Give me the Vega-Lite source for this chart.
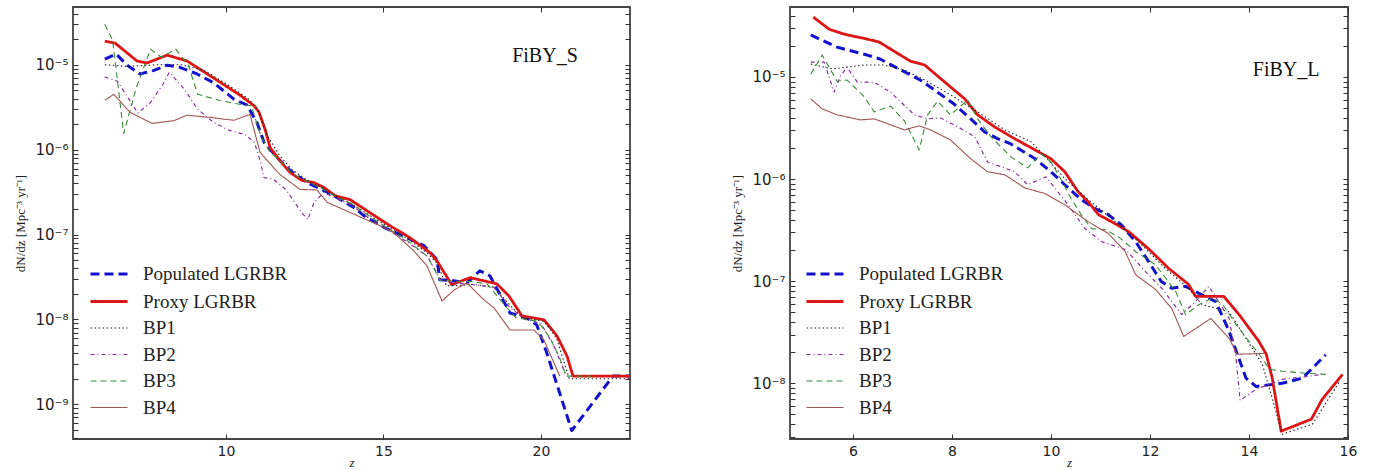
{
  "$schema": "https://vega.github.io/schema/vega-lite/v6.json",
  "background": "white",
  "padding": {"left": 14, "top": 5, "right": 5, "bottom": 0},
  "bounds": "flush",
  "spacing": 160,
  "config": {
    "view": {"stroke": "#444", "strokeWidth": 1.8},
    "axis": {"domain": false, "grid": false, "labelFont": "DejaVu Sans", "labelFontSize": 14, "labelColor": "#222", "tickColor": "#333", "tickWidth": 1, "tickSize": -5, "labelPadding": 10, "titleFontWeight": "normal", "titleColor": "#222", "labelFlush": false}
  },
  "datasets": {
    "L": [
      {"series":"Populated LGRBR","z":6.15,"rate":1.17e-5},{"series":"Populated LGRBR","z":6.51,"rate":1.34e-5},{"series":"Populated LGRBR","z":6.86,"rate":9.9e-6},{"series":"Populated LGRBR","z":7.27,"rate":7.8e-6},{"series":"Populated LGRBR","z":7.71,"rate":8.6e-6},{"series":"Populated LGRBR","z":8.13,"rate":9.9e-6},{"series":"Populated LGRBR","z":8.51,"rate":9.4e-6},{"series":"Populated LGRBR","z":9.08,"rate":7.8e-6},{"series":"Populated LGRBR","z":9.62,"rate":6.1e-6},{"series":"Populated LGRBR","z":10.25,"rate":3.94e-6},{"series":"Populated LGRBR","z":10.67,"rate":3.34e-6},{"series":"Populated LGRBR","z":10.98,"rate":2.1e-6},{"series":"Populated LGRBR","z":11.21,"rate":1.22e-6},{"series":"Populated LGRBR","z":11.62,"rate":8.1e-7},{"series":"Populated LGRBR","z":12.03,"rate":5.7e-7},{"series":"Populated LGRBR","z":12.57,"rate":4.1e-7},{"series":"Populated LGRBR","z":13.11,"rate":3.3e-7},{"series":"Populated LGRBR","z":13.52,"rate":2.73e-7},{"series":"Populated LGRBR","z":14.06,"rate":2.09e-7},{"series":"Populated LGRBR","z":14.38,"rate":1.67e-7},{"series":"Populated LGRBR","z":15.02,"rate":1.21e-7},{"series":"Populated LGRBR","z":15.52,"rate":1.0e-7},{"series":"Populated LGRBR","z":16.29,"rate":7.4e-8},{"series":"Populated LGRBR","z":16.7,"rate":5.06e-8},{"series":"Populated LGRBR","z":16.79,"rate":2.93e-8},{"series":"Populated LGRBR","z":17.24,"rate":2.85e-8},{"series":"Populated LGRBR","z":17.65,"rate":2.7e-8},{"series":"Populated LGRBR","z":18.06,"rate":3.74e-8},{"series":"Populated LGRBR","z":18.38,"rate":3.27e-8},{"series":"Populated LGRBR","z":19.02,"rate":1.19e-8},{"series":"Populated LGRBR","z":19.56,"rate":1.04e-8},{"series":"Populated LGRBR","z":19.87,"rate":8.6e-9},{"series":"Populated LGRBR","z":20.19,"rate":4.0e-9},{"series":"Populated LGRBR","z":20.98,"rate":4.9e-10},{"series":"Populated LGRBR","z":22.29,"rate":2.15e-9},{"series":"Populated LGRBR","z":22.83,"rate":2.15e-9},
      {"series":"Proxy LGRBR","z":6.15,"rate":1.9e-5},{"series":"Proxy LGRBR","z":6.48,"rate":1.8e-5},{"series":"Proxy LGRBR","z":7.17,"rate":1.11e-5},{"series":"Proxy LGRBR","z":7.49,"rate":1.05e-5},{"series":"Proxy LGRBR","z":8.13,"rate":1.3e-5},{"series":"Proxy LGRBR","z":8.76,"rate":1.11e-5},{"series":"Proxy LGRBR","z":9.71,"rate":6.6e-6},{"series":"Proxy LGRBR","z":10.44,"rate":4.4e-6},{"series":"Proxy LGRBR","z":10.89,"rate":3.3e-6},{"series":"Proxy LGRBR","z":11.05,"rate":2.76e-6},{"series":"Proxy LGRBR","z":11.24,"rate":1.74e-6},{"series":"Proxy LGRBR","z":11.4,"rate":1.06e-6},{"series":"Proxy LGRBR","z":11.68,"rate":7.7e-7},{"series":"Proxy LGRBR","z":12.03,"rate":5.4e-7},{"series":"Proxy LGRBR","z":12.41,"rate":4.34e-7},{"series":"Proxy LGRBR","z":12.79,"rate":4.1e-7},{"series":"Proxy LGRBR","z":13.11,"rate":3.58e-7},{"series":"Proxy LGRBR","z":13.46,"rate":2.88e-7},{"series":"Proxy LGRBR","z":13.94,"rate":2.58e-7},{"series":"Proxy LGRBR","z":14.57,"rate":1.81e-7},{"series":"Proxy LGRBR","z":15.21,"rate":1.27e-7},{"series":"Proxy LGRBR","z":15.84,"rate":9.2e-8},{"series":"Proxy LGRBR","z":16.48,"rate":6.1e-8},{"series":"Proxy LGRBR","z":16.7,"rate":4.9e-8},{"series":"Proxy LGRBR","z":17.17,"rate":2.56e-8},{"series":"Proxy LGRBR","z":17.4,"rate":2.77e-8},{"series":"Proxy LGRBR","z":17.75,"rate":3.1e-8},{"series":"Proxy LGRBR","z":18.6,"rate":2.63e-8},{"series":"Proxy LGRBR","z":18.98,"rate":1.9e-8},{"series":"Proxy LGRBR","z":19.4,"rate":1.1e-8},{"series":"Proxy LGRBR","z":20.1,"rate":9.9e-9},{"series":"Proxy LGRBR","z":20.51,"rate":6.4e-9},{"series":"Proxy LGRBR","z":20.83,"rate":3.7e-9},{"series":"Proxy LGRBR","z":21.02,"rate":2.15e-9},{"series":"Proxy LGRBR","z":22.83,"rate":2.15e-9},
      {"series":"BP1","z":6.15,"rate":1.0e-5},{"series":"BP1","z":6.9,"rate":9.6e-6},{"series":"BP1","z":7.75,"rate":1.0e-5},{"series":"BP1","z":8.6,"rate":1.0e-5},{"series":"BP1","z":9.3,"rate":8.6e-6},{"series":"BP1","z":10.0,"rate":6.0e-6},{"series":"BP1","z":10.7,"rate":4.0e-6},{"series":"BP1","z":11.0,"rate":3.0e-6},{"series":"BP1","z":11.3,"rate":1.5e-6},{"series":"BP1","z":11.7,"rate":8.5e-7},{"series":"BP1","z":12.1,"rate":5.8e-7},{"series":"BP1","z":12.6,"rate":4.3e-7},{"series":"BP1","z":13.1,"rate":3.5e-7},{"series":"BP1","z":13.5,"rate":2.8e-7},{"series":"BP1","z":14.0,"rate":2.3e-7},{"series":"BP1","z":14.6,"rate":1.65e-7},{"series":"BP1","z":15.2,"rate":1.2e-7},{"series":"BP1","z":15.8,"rate":8.8e-8},{"series":"BP1","z":16.4,"rate":6.0e-8},{"series":"BP1","z":16.7,"rate":4.6e-8},{"series":"BP1","z":17.0,"rate":2.5e-8},{"series":"BP1","z":17.4,"rate":2.5e-8},{"series":"BP1","z":17.8,"rate":2.6e-8},{"series":"BP1","z":18.5,"rate":2.4e-8},{"series":"BP1","z":19.0,"rate":1.5e-8},{"series":"BP1","z":19.4,"rate":1.05e-8},{"series":"BP1","z":20.1,"rate":9.5e-9},{"series":"BP1","z":20.5,"rate":6.0e-9},{"series":"BP1","z":20.9,"rate":2.0e-9},{"series":"BP1","z":22.83,"rate":2.0e-9},
      {"series":"BP2","z":6.15,"rate":7.2e-6},{"series":"BP2","z":6.55,"rate":6.4e-6},{"series":"BP2","z":7.2,"rate":2.7e-6},{"series":"BP2","z":7.6,"rate":3.6e-6},{"series":"BP2","z":8.0,"rate":5.9e-6},{"series":"BP2","z":8.2,"rate":8.2e-6},{"series":"BP2","z":8.7,"rate":5.0e-6},{"series":"BP2","z":9.1,"rate":3.0e-6},{"series":"BP2","z":9.6,"rate":2.1e-6},{"series":"BP2","z":10.1,"rate":1.69e-6},{"series":"BP2","z":10.6,"rate":1.51e-6},{"series":"BP2","z":10.9,"rate":1.22e-6},{"series":"BP2","z":11.1,"rate":7.1e-7},{"series":"BP2","z":11.2,"rate":4.7e-7},{"series":"BP2","z":11.5,"rate":4.5e-7},{"series":"BP2","z":11.9,"rate":3.4e-7},{"series":"BP2","z":12.4,"rate":1.82e-7},{"series":"BP2","z":12.6,"rate":1.5e-7},{"series":"BP2","z":12.8,"rate":2.4e-7},{"series":"BP2","z":13.1,"rate":3.1e-7},{"series":"BP2","z":13.5,"rate":2.7e-7},{"series":"BP2","z":14.0,"rate":2.2e-7},{"series":"BP2","z":14.6,"rate":1.5e-7},{"series":"BP2","z":15.2,"rate":1.1e-7},{"series":"BP2","z":15.8,"rate":8.0e-8},{"series":"BP2","z":16.4,"rate":5.5e-8},{"series":"BP2","z":16.8,"rate":3.0e-8},{"series":"BP2","z":17.2,"rate":2.7e-8},{"series":"BP2","z":17.7,"rate":2.6e-8},{"series":"BP2","z":18.5,"rate":2.4e-8},{"series":"BP2","z":19.0,"rate":1.4e-8},{"series":"BP2","z":19.5,"rate":1.0e-8},{"series":"BP2","z":20.0,"rate":9.0e-9},{"series":"BP2","z":20.4,"rate":5.0e-9},{"series":"BP2","z":20.8,"rate":2.2e-9},
      {"series":"BP3","z":6.15,"rate":3.0e-5},{"series":"BP3","z":6.4,"rate":1.95e-5},{"series":"BP3","z":6.75,"rate":1.55e-6},{"series":"BP3","z":7.15,"rate":5.4e-6},{"series":"BP3","z":7.6,"rate":1.53e-5},{"series":"BP3","z":7.95,"rate":1.23e-5},{"series":"BP3","z":8.4,"rate":1.53e-5},{"series":"BP3","z":8.8,"rate":1.0e-5},{"series":"BP3","z":9.1,"rate":4.5e-6},{"series":"BP3","z":9.8,"rate":3.8e-6},{"series":"BP3","z":10.6,"rate":3.34e-6},{"series":"BP3","z":10.8,"rate":3.3e-6},{"series":"BP3","z":11.1,"rate":1.47e-6},{"series":"BP3","z":11.4,"rate":9.3e-7},{"series":"BP3","z":11.8,"rate":7.0e-7},{"series":"BP3","z":12.1,"rate":5.2e-7},{"series":"BP3","z":12.6,"rate":4.2e-7},{"series":"BP3","z":13.1,"rate":3.4e-7},{"series":"BP3","z":13.5,"rate":2.8e-7},{"series":"BP3","z":14.0,"rate":2.3e-7},{"series":"BP3","z":14.6,"rate":1.6e-7},{"series":"BP3","z":15.2,"rate":1.15e-7},{"series":"BP3","z":15.8,"rate":8.3e-8},{"series":"BP3","z":16.4,"rate":5.5e-8},{"series":"BP3","z":16.8,"rate":2.9e-8},{"series":"BP3","z":17.4,"rate":2.8e-8},{"series":"BP3","z":17.8,"rate":2.8e-8},{"series":"BP3","z":18.3,"rate":2.6e-8},{"series":"BP3","z":18.9,"rate":1.4e-8},{"series":"BP3","z":19.2,"rate":1.05e-8},{"series":"BP3","z":19.9,"rate":9.5e-9},{"series":"BP3","z":20.3,"rate":6.0e-9},{"series":"BP3","z":20.6,"rate":3.5e-9},{"series":"BP3","z":20.8,"rate":2.15e-9},{"series":"BP3","z":21.6,"rate":2.15e-9},
      {"series":"BP4","z":6.15,"rate":3.83e-6},{"series":"BP4","z":6.44,"rate":4.5e-6},{"series":"BP4","z":6.95,"rate":2.76e-6},{"series":"BP4","z":7.65,"rate":2.04e-6},{"series":"BP4","z":8.35,"rate":2.2e-6},{"series":"BP4","z":8.76,"rate":2.55e-6},{"series":"BP4","z":9.49,"rate":2.4e-6},{"series":"BP4","z":10.25,"rate":2.22e-6},{"series":"BP4","z":10.76,"rate":2.61e-6},{"series":"BP4","z":11.08,"rate":9.3e-7},{"series":"BP4","z":11.71,"rate":5.1e-7},{"series":"BP4","z":12.35,"rate":3.4e-7},{"series":"BP4","z":12.89,"rate":3.35e-7},{"series":"BP4","z":13.21,"rate":2.4e-7},{"series":"BP4","z":13.94,"rate":1.82e-7},{"series":"BP4","z":15.02,"rate":1.21e-7},{"series":"BP4","z":15.33,"rate":1.05e-7},{"series":"BP4","z":15.97,"rate":6.4e-8},{"series":"BP4","z":16.38,"rate":4.3e-8},{"series":"BP4","z":16.86,"rate":1.65e-8},{"series":"BP4","z":17.24,"rate":2.22e-8},{"series":"BP4","z":17.65,"rate":2.7e-8},{"series":"BP4","z":18.19,"rate":1.7e-8},{"series":"BP4","z":18.51,"rate":1.37e-8},{"series":"BP4","z":19.02,"rate":7.5e-9},{"series":"BP4","z":19.78,"rate":7.5e-9},{"series":"BP4","z":20.1,"rate":5.7e-9},{"series":"BP4","z":20.6,"rate":2.15e-9}
    ],
    "R": [
      {"series":"Populated LGRBR","z":5.15,"rate":2.58e-5},{"series":"Populated LGRBR","z":5.68,"rate":1.96e-5},{"series":"Populated LGRBR","z":6.29,"rate":1.64e-5},{"series":"Populated LGRBR","z":6.55,"rate":1.5e-5},{"series":"Populated LGRBR","z":6.9,"rate":1.22e-5},{"series":"Populated LGRBR","z":7.36,"rate":9.35e-6},{"series":"Populated LGRBR","z":7.71,"rate":7.1e-6},{"series":"Populated LGRBR","z":8.05,"rate":5.4e-6},{"series":"Populated LGRBR","z":8.38,"rate":3.89e-6},{"series":"Populated LGRBR","z":8.66,"rate":2.9e-6},{"series":"Populated LGRBR","z":8.93,"rate":2.48e-6},{"series":"Populated LGRBR","z":9.19,"rate":2.21e-6},{"series":"Populated LGRBR","z":9.68,"rate":1.58e-6},{"series":"Populated LGRBR","z":10.0,"rate":1.18e-6},{"series":"Populated LGRBR","z":10.28,"rate":8.8e-7},{"series":"Populated LGRBR","z":10.61,"rate":6.3e-7},{"series":"Populated LGRBR","z":10.89,"rate":5.13e-7},{"series":"Populated LGRBR","z":11.16,"rate":4.48e-7},{"series":"Populated LGRBR","z":11.42,"rate":3.57e-7},{"series":"Populated LGRBR","z":11.71,"rate":2.44e-7},{"series":"Populated LGRBR","z":11.97,"rate":1.56e-7},{"series":"Populated LGRBR","z":12.23,"rate":9.9e-8},{"series":"Populated LGRBR","z":12.44,"rate":8.5e-8},{"series":"Populated LGRBR","z":12.72,"rate":8.9e-8},{"series":"Populated LGRBR","z":12.99,"rate":7.6e-8},{"series":"Populated LGRBR","z":13.33,"rate":6.3e-8},{"series":"Populated LGRBR","z":13.6,"rate":3.21e-8},{"series":"Populated LGRBR","z":13.94,"rate":1.12e-8},{"series":"Populated LGRBR","z":14.14,"rate":9.3e-9},{"series":"Populated LGRBR","z":14.67,"rate":1.0e-8},{"series":"Populated LGRBR","z":15.08,"rate":1.12e-8},{"series":"Populated LGRBR","z":15.55,"rate":1.9e-8},
      {"series":"Proxy LGRBR","z":5.2,"rate":3.86e-5},{"series":"Proxy LGRBR","z":5.52,"rate":2.94e-5},{"series":"Proxy LGRBR","z":5.82,"rate":2.63e-5},{"series":"Proxy LGRBR","z":6.29,"rate":2.35e-5},{"series":"Proxy LGRBR","z":6.53,"rate":2.2e-5},{"series":"Proxy LGRBR","z":7.16,"rate":1.43e-5},{"series":"Proxy LGRBR","z":7.45,"rate":1.31e-5},{"series":"Proxy LGRBR","z":7.97,"rate":8.0e-6},{"series":"Proxy LGRBR","z":8.26,"rate":6.1e-6},{"series":"Proxy LGRBR","z":8.52,"rate":4.26e-6},{"series":"Proxy LGRBR","z":8.86,"rate":3.25e-6},{"series":"Proxy LGRBR","z":9.27,"rate":2.48e-6},{"series":"Proxy LGRBR","z":9.68,"rate":1.93e-6},{"series":"Proxy LGRBR","z":10.0,"rate":1.58e-6},{"series":"Proxy LGRBR","z":10.28,"rate":1.18e-6},{"series":"Proxy LGRBR","z":10.55,"rate":7.5e-7},{"series":"Proxy LGRBR","z":10.75,"rate":6.0e-7},{"series":"Proxy LGRBR","z":10.96,"rate":4.48e-7},{"series":"Proxy LGRBR","z":11.22,"rate":3.83e-7},{"series":"Proxy LGRBR","z":11.57,"rate":3.06e-7},{"series":"Proxy LGRBR","z":11.97,"rate":2.08e-7},{"series":"Proxy LGRBR","z":12.38,"rate":1.33e-7},{"series":"Proxy LGRBR","z":12.78,"rate":9.3e-8},{"series":"Proxy LGRBR","z":12.92,"rate":7.1e-8},{"series":"Proxy LGRBR","z":13.49,"rate":7.1e-8},{"series":"Proxy LGRBR","z":13.8,"rate":4.7e-8},{"series":"Proxy LGRBR","z":14.2,"rate":2.57e-8},{"series":"Proxy LGRBR","z":14.35,"rate":1.92e-8},{"series":"Proxy LGRBR","z":14.47,"rate":1.12e-8},{"series":"Proxy LGRBR","z":14.65,"rate":3.39e-9},{"series":"Proxy LGRBR","z":15.26,"rate":4.44e-9},{"series":"Proxy LGRBR","z":15.48,"rate":6.97e-9},{"series":"Proxy LGRBR","z":15.89,"rate":1.22e-8},
      {"series":"BP1","z":5.15,"rate":1.34e-5},{"series":"BP1","z":5.58,"rate":1.2e-5},{"series":"BP1","z":6.23,"rate":1.31e-5},{"series":"BP1","z":6.63,"rate":1.31e-5},{"series":"BP1","z":7.04,"rate":1.17e-5},{"series":"BP1","z":7.45,"rate":9.35e-6},{"series":"BP1","z":7.97,"rate":6.7e-6},{"series":"BP1","z":8.52,"rate":4.55e-6},{"series":"BP1","z":9.07,"rate":3.03e-6},{"series":"BP1","z":9.6,"rate":2.32e-6},{"series":"BP1","z":9.94,"rate":1.55e-6},{"series":"BP1","z":10.28,"rate":1.01e-6},{"series":"BP1","z":10.75,"rate":6.3e-7},{"series":"BP1","z":11.3,"rate":3.83e-7},{"series":"BP1","z":11.83,"rate":2.28e-7},{"series":"BP1","z":12.31,"rate":1.33e-7},{"series":"BP1","z":12.78,"rate":8.5e-8},{"series":"BP1","z":13.05,"rate":5.9e-8},{"series":"BP1","z":13.6,"rate":5.0e-8},{"series":"BP1","z":13.94,"rate":2.75e-8},{"series":"BP1","z":14.27,"rate":1.53e-8},{"series":"BP1","z":14.47,"rate":7.1e-9},{"series":"BP1","z":14.67,"rate":3.16e-9},{"series":"BP1","z":15.28,"rate":3.96e-9},{"series":"BP1","z":15.83,"rate":1.04e-8},
      {"series":"BP2","z":5.15,"rate":1.4e-5},{"series":"BP2","z":5.42,"rate":1.4e-5},{"series":"BP2","z":5.62,"rate":7.1e-6},{"series":"BP2","z":5.74,"rate":1.0e-5},{"series":"BP2","z":5.88,"rate":1.25e-5},{"series":"BP2","z":6.09,"rate":8.9e-6},{"series":"BP2","z":6.43,"rate":8.9e-6},{"series":"BP2","z":6.76,"rate":7.1e-6},{"series":"BP2","z":7.24,"rate":4.26e-6},{"series":"BP2","z":7.51,"rate":3.89e-6},{"series":"BP2","z":7.77,"rate":3.97e-6},{"series":"BP2","z":8.12,"rate":3.25e-6},{"series":"BP2","z":8.46,"rate":2.6e-6},{"series":"BP2","z":8.72,"rate":1.47e-6},{"series":"BP2","z":8.99,"rate":1.32e-6},{"series":"BP2","z":9.27,"rate":1.18e-6},{"series":"BP2","z":9.53,"rate":8.8e-7},{"series":"BP2","z":9.9,"rate":1.05e-6},{"series":"BP2","z":10.3,"rate":6.0e-7},{"series":"BP2","z":10.69,"rate":3.27e-7},{"series":"BP2","z":11.02,"rate":2.44e-7},{"series":"BP2","z":11.51,"rate":2.04e-7},{"series":"BP2","z":11.91,"rate":1.24e-7},{"series":"BP2","z":12.24,"rate":8.5e-8},{"series":"BP2","z":12.64,"rate":4.7e-8},{"series":"BP2","z":12.92,"rate":6.3e-8},{"series":"BP2","z":13.19,"rate":8.9e-8},{"series":"BP2","z":13.6,"rate":4.3e-8},{"series":"BP2","z":13.74,"rate":1.75e-8},{"series":"BP2","z":13.82,"rate":6.8e-9},{"series":"BP2","z":14.14,"rate":8.7e-9},{"series":"BP2","z":14.67,"rate":1.09e-8},{"series":"BP2","z":15.21,"rate":1.17e-8},{"series":"BP2","z":15.48,"rate":1.22e-8},
      {"series":"BP3","z":5.15,"rate":1.07e-5},{"series":"BP3","z":5.38,"rate":1.64e-5},{"series":"BP3","z":5.54,"rate":1.2e-5},{"series":"BP3","z":5.68,"rate":9.1e-6},{"series":"BP3","z":5.88,"rate":9.35e-6},{"series":"BP3","z":6.23,"rate":6.4e-6},{"series":"BP3","z":6.43,"rate":4.55e-6},{"series":"BP3","z":6.76,"rate":5.2e-6},{"series":"BP3","z":7.04,"rate":3.72e-6},{"series":"BP3","z":7.34,"rate":1.93e-6},{"series":"BP3","z":7.51,"rate":4.26e-6},{"series":"BP3","z":7.71,"rate":5.8e-6},{"series":"BP3","z":7.97,"rate":4.26e-6},{"series":"BP3","z":8.32,"rate":5.96e-6},{"series":"BP3","z":8.52,"rate":3.89e-6},{"series":"BP3","z":8.79,"rate":2.6e-6},{"series":"BP3","z":9.19,"rate":1.65e-6},{"series":"BP3","z":9.53,"rate":1.29e-6},{"series":"BP3","z":9.8,"rate":1.77e-6},{"series":"BP3","z":10.0,"rate":1.47e-6},{"series":"BP3","z":10.2,"rate":1.0e-6},{"series":"BP3","z":10.41,"rate":6.4e-7},{"series":"BP3","z":10.61,"rate":4.48e-7},{"series":"BP3","z":10.82,"rate":3.27e-7},{"series":"BP3","z":11.1,"rate":3.19e-7},{"series":"BP3","z":11.36,"rate":2.73e-7},{"series":"BP3","z":11.71,"rate":1.95e-7},{"series":"BP3","z":12.11,"rate":1.45e-7},{"series":"BP3","z":12.52,"rate":7.9e-8},{"series":"BP3","z":12.72,"rate":4.7e-8},{"series":"BP3","z":12.99,"rate":5.9e-8},{"series":"BP3","z":13.25,"rate":6.8e-8},{"series":"BP3","z":13.46,"rate":6.0e-8},{"series":"BP3","z":13.74,"rate":3.77e-8},{"series":"BP3","z":14.0,"rate":2.57e-8},{"series":"BP3","z":14.27,"rate":1.75e-8},{"series":"BP3","z":14.41,"rate":1.37e-8},{"series":"BP3","z":14.67,"rate":1.31e-8},{"series":"BP3","z":15.16,"rate":1.25e-8},{"series":"BP3","z":15.57,"rate":1.22e-8},
      {"series":"BP4","z":5.15,"rate":6.1e-6},{"series":"BP4","z":5.38,"rate":4.87e-6},{"series":"BP4","z":5.68,"rate":4.26e-6},{"series":"BP4","z":6.15,"rate":3.8e-6},{"series":"BP4","z":6.43,"rate":3.89e-6},{"series":"BP4","z":6.76,"rate":3.4e-6},{"series":"BP4","z":7.04,"rate":3.03e-6},{"series":"BP4","z":7.34,"rate":3.32e-6},{"series":"BP4","z":7.57,"rate":3.03e-6},{"series":"BP4","z":7.97,"rate":2.42e-6},{"series":"BP4","z":8.38,"rate":1.58e-6},{"series":"BP4","z":8.72,"rate":1.18e-6},{"series":"BP4","z":9.07,"rate":1.1e-6},{"series":"BP4","z":9.47,"rate":8.2e-7},{"series":"BP4","z":9.88,"rate":7.2e-7},{"series":"BP4","z":10.28,"rate":5.6e-7},{"series":"BP4","z":10.75,"rate":3.83e-7},{"series":"BP4","z":11.16,"rate":2.92e-7},{"series":"BP4","z":11.5,"rate":1.95e-7},{"series":"BP4","z":11.71,"rate":1.16e-7},{"series":"BP4","z":12.11,"rate":8.3e-8},{"series":"BP4","z":12.44,"rate":5.4e-8},{"series":"BP4","z":12.68,"rate":2.87e-8},{"series":"BP4","z":13.23,"rate":4.3e-8},{"series":"BP4","z":13.6,"rate":2.75e-8},{"series":"BP4","z":13.76,"rate":1.92e-8},{"series":"BP4","z":14.31,"rate":1.96e-8}
    ],
    "LT": [{"label": "FiBY_S", "z": 20.13, "rate": 1.27e-5}],
    "RT": [{"label": "FiBY_L", "z": 14.75, "rate": 1.17e-5}]
  },
  "resolve": {"scale": {"color": "independent", "strokeDash": "independent", "strokeWidth": "independent", "x": "independent", "y": "independent"}, "legend": {"color": "independent", "strokeDash": "independent", "strokeWidth": "independent"}},
  "hconcat": [
    {
      "width": 557, "height": 432,
      "resolve": {"axis": {"x": "independent", "y": "independent"}},
      "layer": [
        {
          "data": {"name": "L"},
          "mark": {"type": "line", "clip": true, "strokeJoin": "round"},
          "encoding": {
            "x": {"field": "z", "type": "quantitative", "scale": {"domain": [5.14, 22.83], "nice": false, "zero": false},
              "axis": {"orient": "bottom", "values": [10, 15, 20], "labelFontSize": 14, "title": "z", "titleFont": "Liberation Serif", "titleFontStyle": "italic", "titleFontSize": 13, "titleY": 27, "titleBaseline": "alphabetic"}},
            "y": {"field": "rate", "type": "quantitative", "scale": {"type": "log", "domain": [3.9e-10, 4.8e-5], "nice": false},
              "axis": {"orient": "left", "labelFontSize": 15,
                "values": [4e-10,5e-10,6e-10,7e-10,8e-10,9e-10,1e-9,2e-9,3e-9,4e-9,5e-9,6e-9,7e-9,8e-9,9e-9,1e-8,2e-8,3e-8,4e-8,5e-8,6e-8,7e-8,8e-8,9e-8,1e-7,2e-7,3e-7,4e-7,5e-7,6e-7,7e-7,8e-7,9e-7,1e-6,2e-6,3e-6,4e-6,5e-6,6e-6,7e-6,8e-6,9e-6,1e-5,2e-5,3e-5,4e-5],
                "labelExpr": "abs(log(datum.value)/LN10 - round(log(datum.value)/LN10)) < 0.001 ? '10⁻' + substring('⁰¹²³⁴⁵⁶⁷⁸⁹', -round(log(datum.value)/LN10), 1 - round(log(datum.value)/LN10)) : ''",
                "encoding": {"ticks": {"x2": {"signal": "abs(log(datum.value)/LN10 - round(log(datum.value)/LN10)) < 0.001 ? 5 : 2.5"}}},
                "title": "dN/dz [Mpc⁻³ yr⁻¹]", "titleFont": "Liberation Serif", "titleFontSize": 13, "titlePadding": 7}},
            "color": {"field": "series", "type": "nominal",
              "scale": {"domain": ["Populated LGRBR", "Proxy LGRBR", "BP1", "BP2", "BP3", "BP4"], "range": ["#1212cc", "#dd1515", "#222222", "#8a2e9a", "#3a8a3a", "#a05555"]},
              "legend": {"orient": "none", "legendX": 21, "legendY": 252, "title": null, "symbolType": "M-1.4,0H1.4", "symbolSize": 700, "labelFont": "Liberation Serif", "labelFontSize": 19, "labelColor": "#222", "labelOffset": 19, "rowPadding": 2.5, "labelLimit": 300, "padding": 0}},
            "strokeDash": {"field": "series", "type": "nominal",
              "scale": {"domain": ["Populated LGRBR", "Proxy LGRBR", "BP1", "BP2", "BP3", "BP4"], "range": [[9, 5], [1, 0], [1.5, 2.5], [4, 3, 1, 3], [6, 4], [1, 0]]},
              "legend": {"orient": "none", "legendX": 21, "legendY": 252, "title": null, "symbolType": "M-1.4,0H1.4", "symbolSize": 700, "labelFont": "Liberation Serif", "labelFontSize": 19, "labelColor": "#222", "labelOffset": 19, "rowPadding": 2.5, "labelLimit": 300, "padding": 0}},
            "strokeWidth": {"field": "series", "type": "nominal",
              "scale": {"type": "ordinal", "domain": ["Populated LGRBR", "Proxy LGRBR", "BP1", "BP2", "BP3", "BP4"], "range": [3, 2.8, 1.1, 1.2, 1.1, 1.1]},
              "legend": {"orient": "none", "legendX": 21, "legendY": 252, "title": null, "symbolType": "M-1.4,0H1.4", "symbolSize": 700, "labelFont": "Liberation Serif", "labelFontSize": 19, "labelColor": "#222", "labelOffset": 19, "rowPadding": 2.5, "labelLimit": 300, "padding": 0}}
          }
        },
        {
          "data": {"name": "LT"},
          "mark": {"type": "text", "font": "Liberation Serif", "fontSize": 20, "color": "#111", "align": "center", "baseline": "middle"},
          "encoding": {
            "x": {"field": "z", "type": "quantitative", "axis": null},
            "y": {"field": "rate", "type": "quantitative", "axis": null},
            "text": {"field": "label"}
          }
        },
        {
          "data": {"name": "L"},
          "mark": {"type": "line", "strokeOpacity": 0},
          "encoding": {
            "x": {"field": "z", "type": "quantitative", "axis": {"orient": "top", "values": [10, 15, 20], "labels": false, "title": null}},
            "y": {"field": "rate", "type": "quantitative",
              "axis": {"orient": "right", "labels": false, "title": null,
                "values": [4e-10,5e-10,6e-10,7e-10,8e-10,9e-10,1e-9,2e-9,3e-9,4e-9,5e-9,6e-9,7e-9,8e-9,9e-9,1e-8,2e-8,3e-8,4e-8,5e-8,6e-8,7e-8,8e-8,9e-8,1e-7,2e-7,3e-7,4e-7,5e-7,6e-7,7e-7,8e-7,9e-7,1e-6,2e-6,3e-6,4e-6,5e-6,6e-6,7e-6,8e-6,9e-6,1e-5,2e-5,3e-5,4e-5],
                "encoding": {"ticks": {"x2": {"signal": "abs(log(datum.value)/LN10 - round(log(datum.value)/LN10)) < 0.001 ? -5 : -2.5"}}}}},
            "detail": {"field": "series"}
          }
        }
      ]
    },
    {
      "width": 558, "height": 432,
      "resolve": {"axis": {"x": "independent", "y": "independent"}},
      "layer": [
        {
          "data": {"name": "R"},
          "mark": {"type": "line", "clip": true, "strokeJoin": "round"},
          "encoding": {
            "x": {"field": "z", "type": "quantitative", "scale": {"domain": [4.73, 16], "nice": false, "zero": false},
              "axis": {"orient": "bottom", "values": [6, 8, 10, 12, 14, 16], "labelFontSize": 14, "title": "z", "titleFont": "Liberation Serif", "titleFontStyle": "italic", "titleFontSize": 13, "titleY": 27, "titleBaseline": "alphabetic"}},
            "y": {"field": "rate", "type": "quantitative", "scale": {"type": "log", "domain": [2.84e-9, 4.85e-5], "nice": false},
              "axis": {"orient": "left", "labelFontSize": 15,
                "values": [3e-9,4e-9,5e-9,6e-9,7e-9,8e-9,9e-9,1e-8,2e-8,3e-8,4e-8,5e-8,6e-8,7e-8,8e-8,9e-8,1e-7,2e-7,3e-7,4e-7,5e-7,6e-7,7e-7,8e-7,9e-7,1e-6,2e-6,3e-6,4e-6,5e-6,6e-6,7e-6,8e-6,9e-6,1e-5,2e-5,3e-5,4e-5],
                "labelExpr": "abs(log(datum.value)/LN10 - round(log(datum.value)/LN10)) < 0.001 ? '10⁻' + substring('⁰¹²³⁴⁵⁶⁷⁸⁹', -round(log(datum.value)/LN10), 1 - round(log(datum.value)/LN10)) : ''",
                "encoding": {"ticks": {"x2": {"signal": "abs(log(datum.value)/LN10 - round(log(datum.value)/LN10)) < 0.001 ? 5 : 2.5"}}},
                "title": "dN/dz [Mpc⁻³ yr⁻¹]", "titleFont": "Liberation Serif", "titleFontSize": 13, "titlePadding": 7}},
            "color": {"field": "series", "type": "nominal",
              "scale": {"domain": ["Populated LGRBR", "Proxy LGRBR", "BP1", "BP2", "BP3", "BP4"], "range": ["#1212cc", "#dd1515", "#222222", "#8a2e9a", "#3a8a3a", "#a05555"]},
              "legend": {"orient": "none", "legendX": 20, "legendY": 252, "title": null, "symbolType": "M-1.4,0H1.4", "symbolSize": 700, "labelFont": "Liberation Serif", "labelFontSize": 19, "labelColor": "#222", "labelOffset": 19, "rowPadding": 2.5, "labelLimit": 300, "padding": 0}},
            "strokeDash": {"field": "series", "type": "nominal",
              "scale": {"domain": ["Populated LGRBR", "Proxy LGRBR", "BP1", "BP2", "BP3", "BP4"], "range": [[9, 5], [1, 0], [1.5, 2.5], [4, 3, 1, 3], [6, 4], [1, 0]]},
              "legend": {"orient": "none", "legendX": 20, "legendY": 252, "title": null, "symbolType": "M-1.4,0H1.4", "symbolSize": 700, "labelFont": "Liberation Serif", "labelFontSize": 19, "labelColor": "#222", "labelOffset": 19, "rowPadding": 2.5, "labelLimit": 300, "padding": 0}},
            "strokeWidth": {"field": "series", "type": "nominal",
              "scale": {"type": "ordinal", "domain": ["Populated LGRBR", "Proxy LGRBR", "BP1", "BP2", "BP3", "BP4"], "range": [3, 2.8, 1.1, 1.2, 1.1, 1.1]},
              "legend": {"orient": "none", "legendX": 20, "legendY": 252, "title": null, "symbolType": "M-1.4,0H1.4", "symbolSize": 700, "labelFont": "Liberation Serif", "labelFontSize": 19, "labelColor": "#222", "labelOffset": 19, "rowPadding": 2.5, "labelLimit": 300, "padding": 0}}
          }
        },
        {
          "data": {"name": "RT"},
          "mark": {"type": "text", "font": "Liberation Serif", "fontSize": 20, "color": "#111", "align": "center", "baseline": "middle"},
          "encoding": {
            "x": {"field": "z", "type": "quantitative", "axis": null},
            "y": {"field": "rate", "type": "quantitative", "axis": null},
            "text": {"field": "label"}
          }
        },
        {
          "data": {"name": "R"},
          "mark": {"type": "line", "strokeOpacity": 0},
          "encoding": {
            "x": {"field": "z", "type": "quantitative", "axis": {"orient": "top", "values": [6, 8, 10, 12, 14, 16], "labels": false, "title": null}},
            "y": {"field": "rate", "type": "quantitative",
              "axis": {"orient": "right", "labels": false, "title": null,
                "values": [3e-9,4e-9,5e-9,6e-9,7e-9,8e-9,9e-9,1e-8,2e-8,3e-8,4e-8,5e-8,6e-8,7e-8,8e-8,9e-8,1e-7,2e-7,3e-7,4e-7,5e-7,6e-7,7e-7,8e-7,9e-7,1e-6,2e-6,3e-6,4e-6,5e-6,6e-6,7e-6,8e-6,9e-6,1e-5,2e-5,3e-5,4e-5],
                "encoding": {"ticks": {"x2": {"signal": "abs(log(datum.value)/LN10 - round(log(datum.value)/LN10)) < 0.001 ? -5 : -2.5"}}}}},
            "detail": {"field": "series"}
          }
        }
      ]
    }
  ]
}
